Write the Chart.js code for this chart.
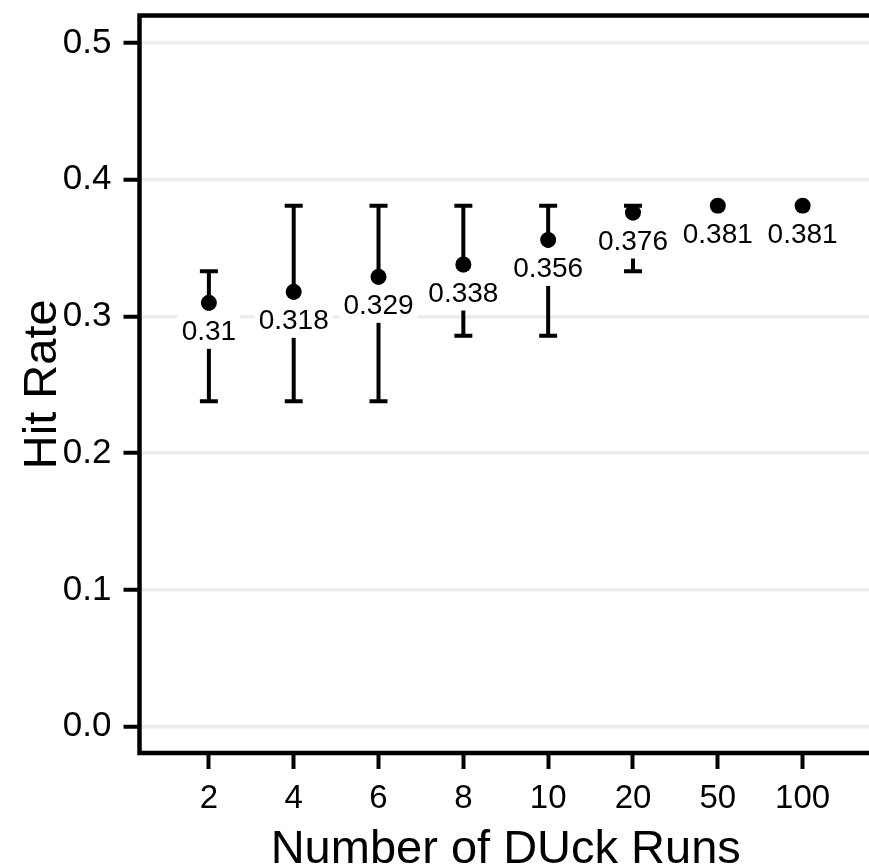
<!DOCTYPE html>
<html>
<head>
<meta charset="utf-8">
<script src="https://cdn.jsdelivr.net/npm/chart.js@4.4.1/dist/chart.umd.min.js"></script>
<style>
  html, body { margin: 0; padding: 0; background: #fff; overflow: hidden; }
  canvas { display: block; }
</style>
</head>
<body>
<canvas id="chart" width="880" height="867"></canvas>
<script>
// hit rate per number of runs, with min/max spread over repeats
const runs = ['2', '4', '6', '8', '10', '20', '50', '100'];
const hitRate = [0.31, 0.318, 0.329, 0.338, 0.356, 0.376, 0.381, 0.381];
const errLow = [0.238, 0.238, 0.238, 0.286, 0.286, 0.333, null, null];
const errHigh = [0.333, 0.381, 0.381, 0.381, 0.381, 0.381, null, null];
const yTicks = [0, 0.1, 0.2, 0.3, 0.4, 0.5];

const FONT = "'Liberation Sans', Arial, Helvetica, sans-serif";

const errorBars = {
  id: 'errorBars',
  beforeDatasetsDraw(chart) {
    const { ctx, scales: { x, y } } = chart;
    ctx.save();
    ctx.strokeStyle = '#000';
    ctx.lineWidth = 4;
    runs.forEach((r, i) => {
      if (errLow[i] == null) return;
      const px = x.getPixelForValue(i);
      const y0 = y.getPixelForValue(errLow[i]);
      const y1 = y.getPixelForValue(errHigh[i]);
      ctx.beginPath();
      ctx.moveTo(px, y0); ctx.lineTo(px, y1);
      ctx.moveTo(px - 9, y0); ctx.lineTo(px + 9, y0);
      ctx.moveTo(px - 9, y1); ctx.lineTo(px + 9, y1);
      ctx.stroke();
    });
    ctx.restore();
  }
};

// value labels sit under each point on a white box
const valueLabels = {
  id: 'valueLabels',
  afterDatasetsDraw(chart) {
    const { ctx, scales: { x, y } } = chart;
    ctx.save();
    ctx.font = '28px ' + FONT;
    ctx.textAlign = 'center';
    ctx.textBaseline = 'alphabetic';
    hitRate.forEach((v, i) => {
      const txt = String(v);
      const px = x.getPixelForValue(i);
      const cy = y.getPixelForValue(v) + 27;
      const w = ctx.measureText(txt).width;
      ctx.fillStyle = '#fff';
      ctx.fillRect(px - w / 2 - 4, cy - 19, w + 8, 38);
      ctx.fillStyle = '#000';
      ctx.fillText(txt, px, cy + 10);
    });
    ctx.restore();
  }
};

const frame = {
  id: 'frame',
  afterDraw(chart) {
    const { ctx, chartArea: a } = chart;
    ctx.save();
    ctx.strokeStyle = '#000';
    ctx.lineWidth = 4.5;
    ctx.lineCap = 'square';
    ctx.beginPath();
    ctx.moveTo(chart.width + 5, a.top);
    ctx.lineTo(a.left, a.top);
    ctx.lineTo(a.left, a.bottom);
    ctx.lineTo(chart.width + 5, a.bottom);
    ctx.stroke();

    ctx.fillStyle = '#000';
    ctx.font = '47px ' + FONT;
    ctx.textAlign = 'center';
    ctx.textBaseline = 'alphabetic';
    ctx.fillText('Number of DUck Runs', (a.left + a.right) / 2, 863);

    ctx.translate(56, (a.top + a.bottom) / 2);
    ctx.rotate(-Math.PI / 2);
    ctx.fillText('Hit Rate', 0, 0);
    ctx.restore();
  }
};

new Chart(document.getElementById('chart'), {
  type: 'scatter',
  data: {
    datasets: [{
      data: hitRate.map((v, i) => ({ x: i, y: v })),
      backgroundColor: '#000',
      borderWidth: 0,
      pointRadius: 8,
      pointHoverRadius: 8
    }]
  },
  options: {
    responsive: false,
    animation: false,
    events: [],
    layout: { padding: { top: 15.5, right: 2, left: 0, bottom: 0 } },
    plugins: { legend: { display: false }, tooltip: { enabled: false } },
    scales: {
      x: {
        type: 'linear',
        min: -0.818,
        max: 7.818,
        afterFit(s) {
          s.height = 114;
          s.paddingLeft = 0;
          s.paddingRight = 0;
        },
        afterBuildTicks(s) { s.ticks = runs.map((r, i) => ({ value: i })); },
        border: { display: false },
        grid: {
          drawOnChartArea: false,
          drawTicks: true,
          tickLength: 16,
          tickColor: '#000',
          tickWidth: 4
        },
        ticks: {
          autoSkip: false,
          maxRotation: 0,
          padding: 10,
          color: '#000',
          font: { family: FONT, size: 33, lineHeight: 1.2 },
          callback: v => runs[v]
        }
      },
      y: {
        min: -0.0192,
        max: 0.5201,
        afterFit(s) {
          s.width = 139.5;
          s.paddingTop = 0;
          s.paddingBottom = 0;
        },
        afterBuildTicks(s) { s.ticks = yTicks.map(v => ({ value: v })); },
        border: { display: false },
        grid: {
          color: '#ededed',
          lineWidth: 3.5,
          drawTicks: true,
          tickLength: 16,
          tickColor: '#000',
          tickWidth: 4
        },
        ticks: {
          padding: 12,
          color: '#000',
          font: { family: FONT, size: 35 },
          callback: v => v.toFixed(1)
        }
      }
    }
  },
  plugins: [errorBars, valueLabels, frame]
});
</script>
</body>
</html>
